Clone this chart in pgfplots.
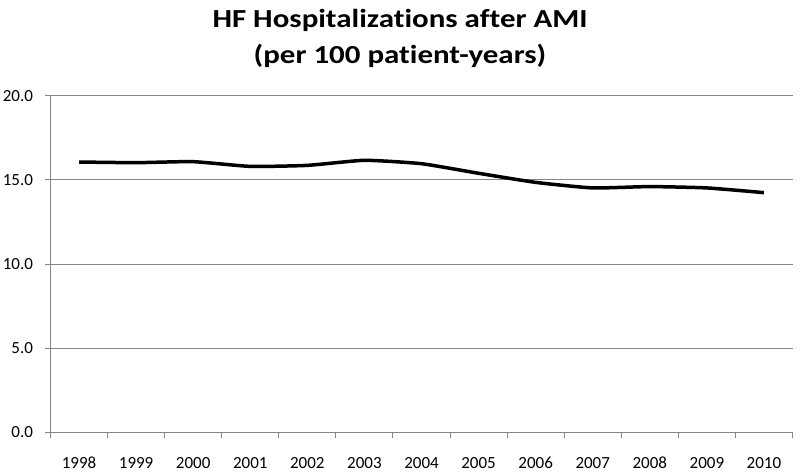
\documentclass[border=0pt]{standalone}
\usepackage{pgfplots}
\pgfplotsset{compat=1.18}
\usepackage{fontspec}
\setmainfont{Carlito}
\newfontfamily\titlefont[FakeStretch=1.19, Ligatures=NoCommon]{Carlito}
\definecolor{axgray}{HTML}{868686}
\begin{document}
\begin{tikzpicture}
\path[use as bounding box] (-50.5bp,-39.7bp) rectangle (749.5bp,432.3bp);
\begin{axis}[
  at={(0,0)}, anchor=south west,
  scale only axis, width=742bp, height=336.6bp,
  xmin=-0.5, xmax=12.5, ymin=0, ymax=20,
  axis x line*=bottom, axis y line*=left,
  axis line style={axgray, line width=1pt, -},
  xtick={0,...,12},
  xticklabels={1998,1999,2000,2001,2002,2003,2004,2005,2006,2007,2008,2009,2010},
  minor xtick={-0.5,0.5,...,12.5},
  major x tick style={draw=none},
  minor x tick style={axgray, line width=1pt},
  minor tick length=6bp,
  ytick={0,5,10,15,20},
  major y tick style={axgray, line width=1pt},
  major tick length=6bp,
  tick align=outside,
  ymajorgrids,
  major grid style={axgray, line width=0.8pt},
  /pgf/number format/fixed, /pgf/number format/fixed zerofill,
  /pgf/number format/precision=1, /pgf/number format/assume math mode=true,
  yticklabel style={font=\fontsize{17bp}{19bp}\selectfont, xshift=-8bp},
  xticklabel style={font=\fontsize{17bp}{19bp}\selectfont, anchor=base, yshift=-30bp},
  clip=false,
]
\addplot[black, line width=3.5bp, smooth, tension=0.3] coordinates {
(0,16.06) (1,16.02) (2,16.08) (3,15.80) (4,15.86) (5,16.16) (6,15.96)
(7,15.39) (8,14.85) (9,14.52) (10,14.60) (11,14.52) (12,14.24)
};
\end{axis}
\node[anchor=base, font=\titlefont\bfseries\fontsize{26bp}{30bp}\selectfont] at (349.5bp,405bp) {HF Hospitalizations after AMI};
\node[anchor=base, font=\titlefont\bfseries\fontsize{26bp}{30bp}\selectfont] at (349.5bp,369bp) {(per 100 patient-years)};
\end{tikzpicture}
\end{document}
